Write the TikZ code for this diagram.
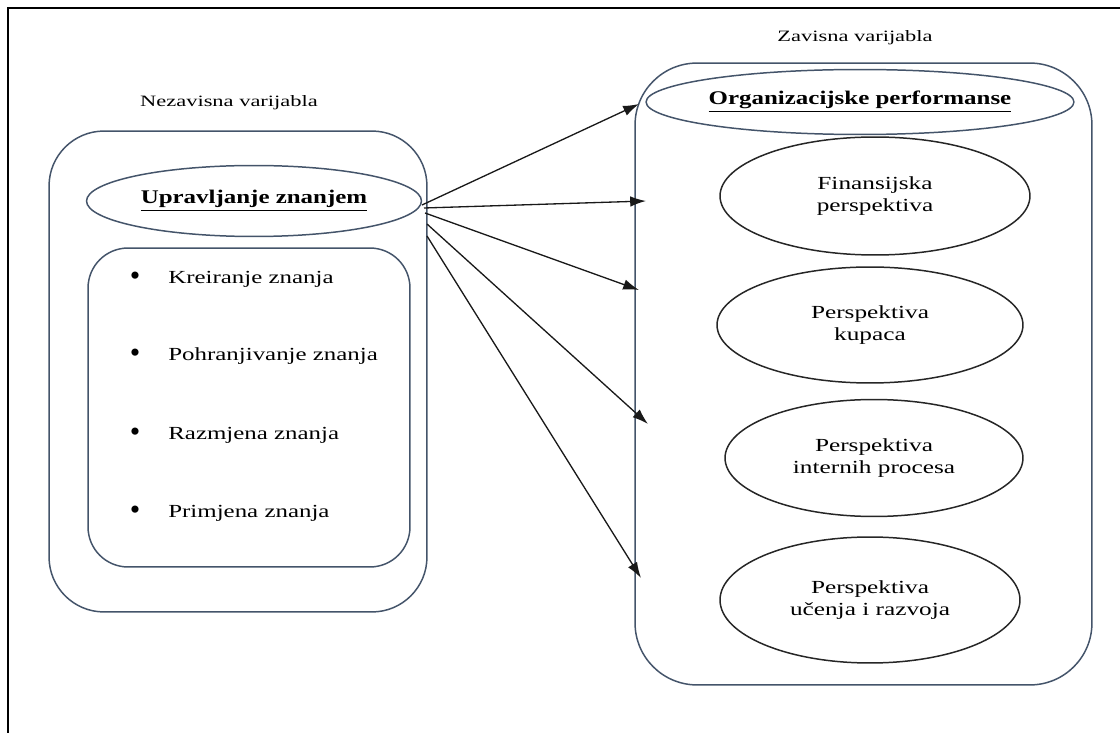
\documentclass[tikz,border=0pt]{standalone}
\usepackage{fontspec}
\usepackage{graphicx}
\setmainfont{Liberation Serif}
\usetikzlibrary{shapes.geometric,arrows.meta}
\definecolor{slate}{RGB}{68,84,106}
\newcommand{\xstretch}[2]{\scalebox{#1}[1]{#2}}
\newcommand{\twolines}[2]{\xstretch{1.37}{\begin{tabular}{@{}c@{}}#1\\#2\end{tabular}}}
\tikzset{
  frame/.style={line width=1.2pt,black},
  outerbox/.style={draw=slate,line width=0.85pt,rectangle},
  headell/.style={draw=slate,line width=0.85pt,ellipse,inner sep=0pt,font=\fontsize{11}{13}\selectfont\bfseries},
  perspell/.style={draw=black!85,line width=0.85pt,ellipse,inner sep=0pt,align=center,font=\fontsize{10.5}{12.4}\selectfont},
  caption/.style={font=\fontsize{9}{11}\selectfont},
  bulletitem/.style={anchor=west,inner sep=0pt,font=\fontsize{10.5}{12}\selectfont},
  bulletdot/.style={inner sep=0pt,font=\fontsize{17}{17}\selectfont},
  arr/.style={-{Latex[length=9pt,width=6pt]},line width=0.75pt,black!90}
}
\begin{document}
\begin{tikzpicture}[x=0.02cm,y=-0.02cm]
\useasboundingbox (0,0) rectangle (1120,733);
% partial frame
\draw[frame] (8,733) -- (8,8) -- (1120,8);

% left side
\node[caption] (nez) at (229,103) {\xstretch{1.42}{Nezavisna varijabla}};
\node[outerbox,minimum width=7.56cm,minimum height=9.62cm,rounded corners=1.1cm] (lbox) at (238,371.5) {};
\node[headell,minimum width=6.7cm,minimum height=1.42cm] (upr) at (254,201) {\xstretch{1.29}{\underline{Upravljanje znanjem}}};
\node[outerbox,minimum width=6.44cm,minimum height=6.38cm,rounded corners=0.8cm] (ibox) at (249,407.5) {};

\node[bulletdot] (b1) at (135,279) {\textbullet};
\node[bulletitem] (t1) at (168,279) {\xstretch{1.35}{Kreiranje znanja}};
\node[bulletdot] (b2) at (135,356) {\textbullet};
\node[bulletitem] (t2) at (168,356) {\xstretch{1.35}{Pohranjivanje znanja}};
\node[bulletdot] (b3) at (135,435) {\textbullet};
\node[bulletitem] (t3) at (168,435) {\xstretch{1.35}{Razmjena znanja}};
\node[bulletdot] (b4) at (135,513) {\textbullet};
\node[bulletitem] (t4) at (168,513) {\xstretch{1.35}{Primjena znanja}};

% right side
\node[caption] (zav) at (855,38) {\xstretch{1.42}{Zavisna varijabla}};
\node[outerbox,minimum width=9.14cm,minimum height=12.44cm,rounded corners=1.24cm] (rbox) at (863.5,374) {};
\node[headell,minimum width=7.6cm,minimum height=1.3cm] (org) at (860,102) {\xstretch{1.29}{\underline{Organizacijske performanse}}};
\node[perspell,minimum width=6.2cm,minimum height=2.36cm] (fin) at (875,196) {\twolines{Finansijska}{perspektiva}};
\node[perspell,minimum width=6.12cm,minimum height=2.32cm] (kup) at (870,325) {\twolines{Perspektiva}{kupaca}};
\node[perspell,minimum width=5.96cm,minimum height=2.34cm] (int) at (874,458) {\twolines{Perspektiva}{internih procesa}};
\node[perspell,minimum width=6.0cm,minimum height=2.52cm] (uce) at (870,600) {\twolines{Perspektiva}{učenja i razvoja}};

% arrows
\coordinate (s1) at (422,205);
\coordinate (s2) at (424,208);
\coordinate (s3) at (425,213);
\coordinate (s4) at (427,224);
\coordinate (s5) at (427,236);
\coordinate (e1) at (639,104);
\coordinate (e2) at (646,201);
\coordinate (e3) at (639,290);
\coordinate (e4) at (648,424);
\coordinate (e5) at (641,578);
\draw[arr] (s1) -- (e1);
\draw[arr] (s2) -- (e2);
\draw[arr] (s3) -- (e3);
\draw[arr] (s4) -- (e4);
\draw[arr] (s5) -- (e5);
\end{tikzpicture}
\end{document}
